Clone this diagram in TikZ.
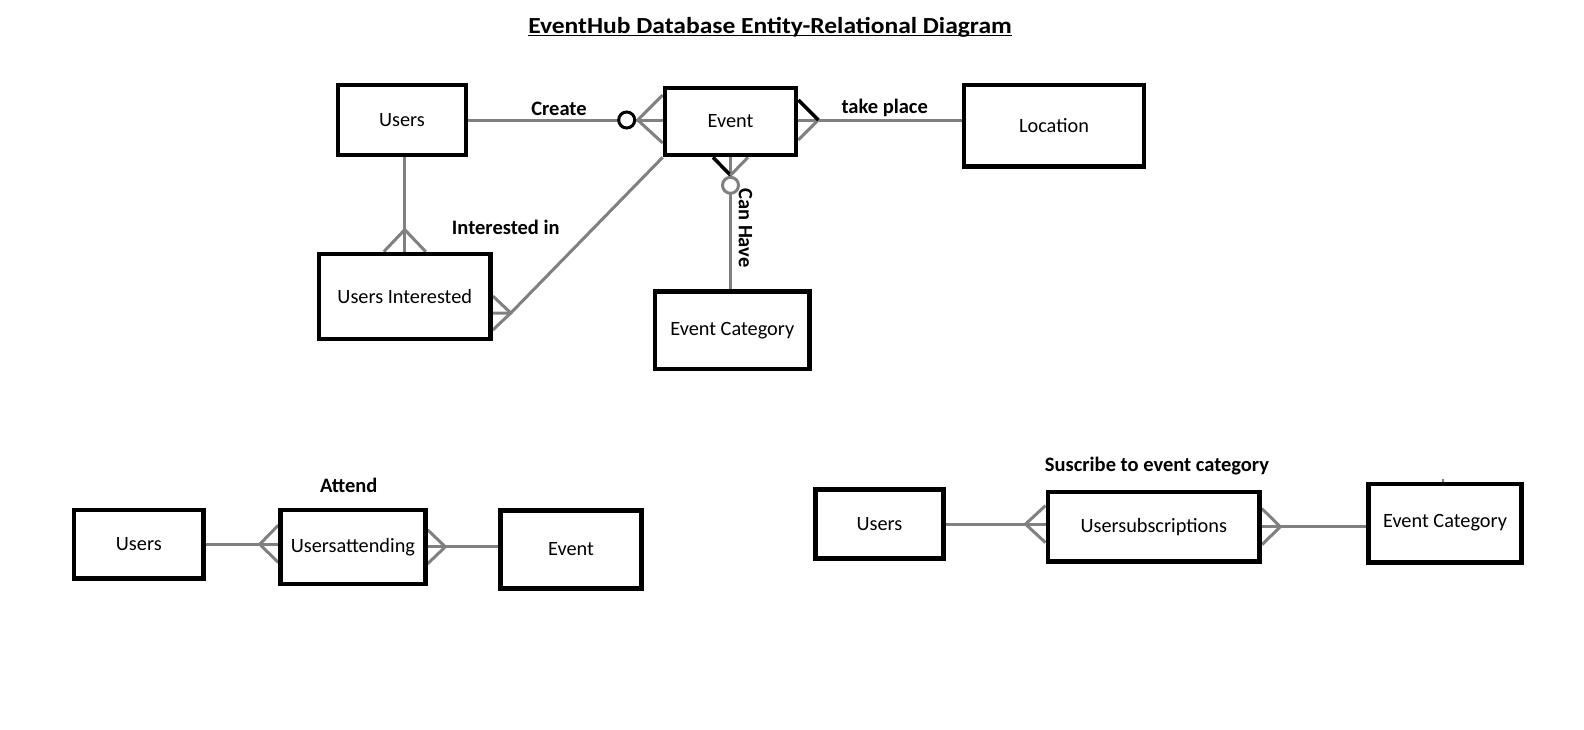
\documentclass[tikz,border=0pt]{standalone}
\usepackage{fontspec}
\setmainfont{Carlito}
\usetikzlibrary{calc,backgrounds}
\definecolor{conngray}{RGB}{128,128,128}
\begin{document}
\begin{tikzpicture}[x=1pt,y=-1pt,
  entity/.style={draw=black, line width=4.6pt, fill=white, inner sep=0pt, font=\fontsize{20.3}{24}\selectfont},
  rel/.style={font=\fontsize{20.5}{24}\selectfont\bfseries, inner sep=0pt},
  conn/.style={draw=conngray, line width=3pt},
  connk/.style={draw=black, line width=3.5pt},
]
\useasboundingbox (0,0) rectangle (1584,729);

% entities
\node[entity, minimum width=128pt, minimum height=70pt] (users1) at (402,120) {Users};
\node[entity, minimum width=131pt, minimum height=67pt] (event1) at (730.5,121.5) {Event};
\node[entity, minimum width=180pt, minimum height=81.5pt] (location) at (1054,125.75) {Location};
\node[entity, minimum width=171.5pt, minimum height=85pt] (usersint) at (404.75,296.5) {Users Interested};
\node[entity, minimum width=154.7pt, minimum height=77.5pt] (evcat1) at (732.3,330.25) {Event Category};
\node[entity, minimum width=129.7pt, minimum height=68.7pt] (users2) at (138.8,544.3) {Users};
\node[entity, minimum width=144.8pt, minimum height=74pt] (usersatt) at (352.9,546.8) {Usersattending};
\node[entity, minimum width=141.2pt, minimum height=77.8pt] (event2) at (571.1,549.4) {Event};
\node[entity, minimum width=128.4pt, minimum height=69.2pt] (users3) at (879.5,524.1) {Users};
\node[entity, minimum width=211.9pt, minimum height=69.3pt] (usersub) at (1153.75,526.7) {Usersubscriptions};
\node[entity, minimum width=153.4pt, minimum height=78.4pt] (evcat2) at (1445,523) {Event Category};

% labels
\node[font=\fontsize{23}{28}\selectfont\bfseries, inner sep=0pt, anchor=base] (title) at (770,33.4)
  {\scalebox{1.11}[1]{EventHub Database Entity-Relational Diagram}};
\draw[line width=1.6pt] ($(title.base west)+(0,2)$) -- ($(title.base east)+(0,2)$);
\node[rel] (lcreate) at (559,109) {Create};
\node[rel] (ltake) at (884.7,108) {take place};
\node[rel] (lint) at (505.8,227) {Interested in};
\node[rel, rotate=-90] (lcan) at (745.5,228) {Can Have};
\node[rel] (lattend) at (348.8,485) {Attend};
\node[rel] (lsub) at (1157,466) {Suscribe to event category};

\begin{pgfonlayer}{background}
\fill[white] (0,0) rectangle (1584,729);

% Create
\coordinate (cA) at (users1.east -| event1.west);
\draw[conn] (users1.east) -- (cA);
\draw[conn] ($(cA)+(0,-25)$) -- ($(cA)+(-25,0)$) -- ($(cA)+(0,23)$);

% take place
\coordinate (cB) at ($(event1.east)+(0,-1.5)$);
\draw[conn] (cB) -- (cB -| location.west);
\draw[conn] ($(cB)+(20,0)$) -- ($(cB)+(0,20)$);
\draw[connk] ($(cB)+(20,0)$) -- ($(cB)+(0,-20)$);

% Can Have
\coordinate (cC) at (event1.south);
\draw[conn] (cC) -- (cC |- evcat1.north);
\draw[connk] ($(cC)+(0,18)$) -- ($(cC)+(-17.5,0)$);
\draw[conn] ($(cC)+(0,18)$) -- ($(cC)+(17.5,0)$);

% Interested in
\coordinate (cD) at ($(usersint.east)+(0,16.5)$);
\coordinate (cDa) at ($(cD)+(18,0)$);
\draw[conn] (event1.south west) -- (cDa) -- (cD);
\draw[conn] ($(cD)+(0,-17)$) -- (cDa) -- ($(cD)+(0,17)$);

% Users -> Users Interested
\coordinate (cE) at (usersint.north);
\draw[conn] (cE |- users1.south) -- (cE);
\draw[conn] ($(cE)+(-21,0)$) -- ($(cE)+(0,-22)$) -- ($(cE)+(21,0)$);

% Attend
\coordinate (cF) at (users2.east -| usersatt.west);
\draw[conn] (users2.east) -- (cF);
\draw[conn] ($(cF)+(0,-19)$) -- ($(cF)+(-18.5,0)$) -- ($(cF)+(0,18)$);
\coordinate (cG) at (usersatt.east);
\draw[conn] (cG) -- (cG -| event2.west);
\draw[conn] ($(cG)+(0,-17)$) -- ($(cG)+(17.7,0)$) -- ($(cG)+(0,17)$);

% Subscribe
\coordinate (cH) at (users3.east -| usersub.west);
\draw[conn] (users3.east) -- (cH);
\draw[conn] ($(cH)+(0,-18.5)$) -- ($(cH)+(-20,0)$) -- ($(cH)+(0,18.5)$);
\coordinate (cI) at (usersub.east);
\draw[conn] (cI) -- (cI -| evcat2.west);
\draw[conn] ($(cI)+(0,-18)$) -- ($(cI)+(18.3,0)$) -- ($(cI)+(0,18)$);

% stray tick above Event Category
\draw[conngray, line width=2.5pt] (1443,479) -- (1443,483);
\end{pgfonlayer}

% optionality circles
\draw[connk, line width=3pt, fill=white] ($(cA)+(-36,0)$) circle[radius=8];
\draw[conn, fill=white] ($(cC)+(0,28)$) circle[radius=8];
\end{tikzpicture}
\end{document}
